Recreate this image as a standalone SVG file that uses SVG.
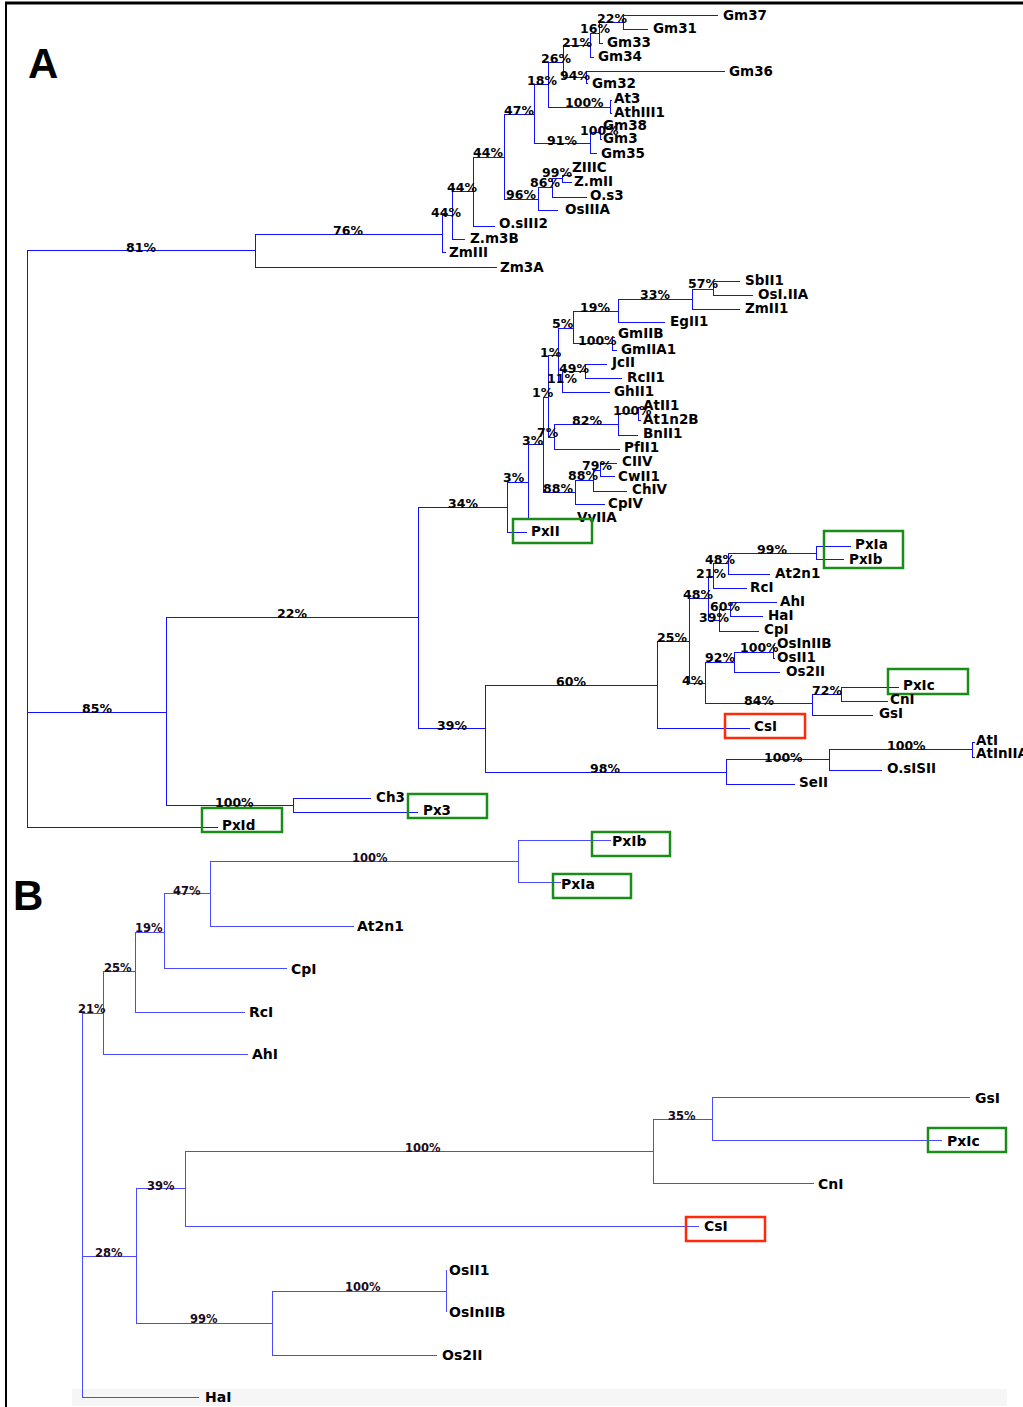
<svg xmlns="http://www.w3.org/2000/svg" width="1023" height="1407" viewBox="0 0 1023 1407">
<style>
.br{stroke:#1010ff;stroke-width:1;fill:none;shape-rendering:crispEdges}
.brb{stroke:#4a4aff}
.fr{stroke:#000;fill:none}
.lf{font-family:"DejaVu Sans",Verdana,sans-serif;font-weight:bold;font-size:13.5px;fill:#000}
.pc{font-family:"DejaVu Sans",Verdana,sans-serif;font-weight:bold;font-size:12.5px;fill:#000}
.lfb{font-family:"DejaVu Sans",Verdana,sans-serif;font-weight:bold;font-size:14px;fill:#000}
.pcb{font-family:"DejaVu Sans",Verdana,sans-serif;font-weight:bold;font-size:11.5px;fill:#1a0a1a}
.big{font-family:"Liberation Sans",Arial,sans-serif;font-weight:bold;font-size:42px;fill:#000}
.gb{fill:none;stroke:#1a8c1a;stroke-width:2.5}
.rb{fill:none;stroke:#ff2a0a;stroke-width:2.5}
</style>
<rect x="0" y="0" width="1023" height="1407" fill="#fff"/>
<rect x="72" y="1389" width="935" height="17" fill="#f6f6f6"/>
<g id="frame">
<path class="fr" stroke-width="3" d="M5 3H1023"/>
<path class="fr" stroke-width="2" d="M6 2V1407"/>
</g>
<text class="big" x="28" y="78">A</text>
<text class="big" x="13" y="910">B</text>
<g id="connectors" class="br">
<g id="conn-A">
<path d="M27 250V827M27 250H255M27 712H166M27 827H218"/>
<path d="M255 234V267M255 234H442M255 267H497"/>
<path d="M442 215V252M442 215H452M442 252H446"/>
<path d="M452 191V239M452 191H473M452 239H465"/>
<path d="M473 157V226M473 157H504M473 226H495"/>
<path d="M504 114V199M504 114H534M504 199H538"/>
<path d="M534 84V143M534 84H548M534 143H590"/>
<path d="M548 62V107M548 62H563M548 107H610"/>
<path d="M563 45V77M563 45H590M563 77H586"/>
<path d="M590 33V57M590 33H599M590 57H594"/>
<path d="M599 22V43M599 22H623M599 43H603"/>
<path d="M623 15V29M623 15H718M623 29H648"/>
<path d="M586 71V83M586 71H725M586 83H588"/>
<path d="M610 100V113M610 100H612M610 113H612"/>
<path d="M590 132V153M590 132H600M590 153H597"/>
<path d="M600 126V139M600 126H602M600 139H602"/>
<path d="M538 187V210M538 187H552M538 210H558"/>
<path d="M552 178V197M552 178H562M552 197H587"/>
<path d="M562 175V182M562 175H572M562 182H572"/>
<path d="M166 617V805M166 617H418M166 805H293"/>
<path d="M293 798V812M293 798H371M293 812H418"/>
<path d="M418 507V728M418 507H507M418 728H485"/>
<path d="M507 482V532M507 482H528M507 532H527"/>
<path d="M528 444V518M528 444H543M528 518H575"/>
<path d="M543 397V492M543 397H548M543 492H575"/>
<path d="M548 355V437M548 355H558M548 437H554"/>
<path d="M558 328V381M558 328H573M558 381H562"/>
<path d="M573 311V343M573 311H618M573 343H612"/>
<path d="M618 299V322M618 299H692M618 322H665"/>
<path d="M692 289V309M692 289H713M692 309H740"/>
<path d="M713 281V295M713 281H740M713 295H753"/>
<path d="M612 337V350M612 337H615M612 350H617"/>
<path d="M562 371V392M562 371H585M562 392H610"/>
<path d="M585 364V378M585 364H607M585 378H622"/>
<path d="M554 424V449M554 424H618M554 449H620"/>
<path d="M618 413V435M618 413H638M618 435H638"/>
<path d="M638 407V420M638 407H641M638 420H641"/>
<path d="M575 480V504M575 480H593M575 504H605"/>
<path d="M593 470V491M593 470H600M593 491H627"/>
<path d="M600 463V476M600 463H617M600 476H615"/>
<path d="M485 685V772M485 685H657M485 772H726"/>
<path d="M657 641V728M657 641H689M657 728H750"/>
<path d="M689 598V683M689 598H708M689 683H705"/>
<path d="M708 576V620M708 576H713M708 620H719"/>
<path d="M713 563V588M713 563H728M713 588H747"/>
<path d="M728 553V574M728 553H816M728 574H770"/>
<path d="M816 546V559M816 546H851M816 559H844"/>
<path d="M719 609V631M719 609H730M719 631H759"/>
<path d="M730 602V616M730 602H777M730 616H763"/>
<path d="M705 662V703M705 662H734M705 703H812"/>
<path d="M734 652V672M734 652H773M734 672H780"/>
<path d="M773 645V658M773 645H775M773 658H775"/>
<path d="M812 694V715M812 694H841M812 715H873"/>
<path d="M841 687V701M841 687H899M841 701H888"/>
<path d="M726 759V784M726 759H829M726 784H795"/>
<path d="M829 749V770M829 749H972M829 770H882"/>
<path d="M972 742V757M972 742H975M972 757H975"/>
</g>
<g id="conn-B" class="brb">
<path d="M82 1013V1397M82 1013H103M82 1256H136M82 1397H199"/>
<path d="M103 971V1054M103 971H135M103 1054H248"/>
<path d="M135 932V1012M135 932H164M135 1012H245"/>
<path d="M164 893V968M164 893H210M164 968H287"/>
<path d="M210 861V926M210 861H518M210 926H354"/>
<path d="M518 840V882M518 840H611M518 882H561"/>
<path d="M136 1188V1323M136 1188H185M136 1323H272"/>
<path d="M185 1151V1226M185 1151H653M185 1226H699"/>
<path d="M653 1119V1183M653 1119H712M653 1183H814"/>
<path d="M712 1097V1140M712 1097H970M712 1140H942"/>
<path d="M272 1291V1355M272 1291H446M272 1355H437"/>
<path d="M446 1270V1312"/>
</g>
</g>
<g id="support-A">
<text class="pc" x="597" y="23">22%</text>
<text class="pc" x="580" y="33">16%</text>
<text class="pc" x="562" y="47">21%</text>
<text class="pc" x="541" y="63">26%</text>
<text class="pc" x="560" y="80">94%</text>
<text class="pc" x="527" y="85">18%</text>
<text class="pc" x="565" y="107">100%</text>
<text class="pc" x="504" y="115">47%</text>
<text class="pc" x="580" y="135">100%</text>
<text class="pc" x="547" y="145">91%</text>
<text class="pc" x="473" y="157">44%</text>
<text class="pc" x="542" y="177">99%</text>
<text class="pc" x="530" y="187">86%</text>
<text class="pc" x="506" y="199">96%</text>
<text class="pc" x="447" y="192">44%</text>
<text class="pc" x="431" y="217">44%</text>
<text class="pc" x="333" y="235">76%</text>
<text class="pc" x="126" y="252">81%</text>
<text class="pc" x="688" y="288">57%</text>
<text class="pc" x="640" y="299">33%</text>
<text class="pc" x="580" y="312">19%</text>
<text class="pc" x="552" y="328">5%</text>
<text class="pc" x="578" y="345">100%</text>
<text class="pc" x="540" y="357">1%</text>
<text class="pc" x="559" y="373">49%</text>
<text class="pc" x="547" y="383">11%</text>
<text class="pc" x="532" y="397">1%</text>
<text class="pc" x="613" y="415">100%</text>
<text class="pc" x="572" y="425">82%</text>
<text class="pc" x="537" y="437">7%</text>
<text class="pc" x="522" y="445">3%</text>
<text class="pc" x="582" y="470">79%</text>
<text class="pc" x="568" y="480">88%</text>
<text class="pc" x="543" y="493">88%</text>
<text class="pc" x="503" y="482">3%</text>
<text class="pc" x="448" y="508">34%</text>
<text class="pc" x="277" y="618">22%</text>
<text class="pc" x="82" y="713">85%</text>
<text class="pc" x="437" y="730">39%</text>
<text class="pc" x="215" y="807">100%</text>
<text class="pc" x="757" y="554">99%</text>
<text class="pc" x="705" y="564">48%</text>
<text class="pc" x="696" y="578">21%</text>
<text class="pc" x="683" y="599">48%</text>
<text class="pc" x="710" y="611">60%</text>
<text class="pc" x="699" y="622">39%</text>
<text class="pc" x="657" y="642">25%</text>
<text class="pc" x="740" y="652">100%</text>
<text class="pc" x="705" y="662">92%</text>
<text class="pc" x="682" y="685">4%</text>
<text class="pc" x="744" y="705">84%</text>
<text class="pc" x="812" y="695">72%</text>
<text class="pc" x="556" y="686">60%</text>
<text class="pc" x="887" y="750">100%</text>
<text class="pc" x="764" y="762">100%</text>
<text class="pc" x="590" y="773">98%</text>
</g>
<g id="support-B">
<text class="pcb" x="352" y="862">100%</text>
<text class="pcb" x="173" y="895">47%</text>
<text class="pcb" x="135" y="932">19%</text>
<text class="pcb" x="104" y="972">25%</text>
<text class="pcb" x="78" y="1013">21%</text>
<text class="pcb" x="668" y="1120">35%</text>
<text class="pcb" x="405" y="1152">100%</text>
<text class="pcb" x="147" y="1190">39%</text>
<text class="pcb" x="95" y="1257">28%</text>
<text class="pcb" x="345" y="1291">100%</text>
<text class="pcb" x="190" y="1323">99%</text>
</g>
<g id="leaves-A">
<g id="a-Gm37"><text class="lf" x="723" y="20">Gm37</text></g>
<g id="a-Gm31"><text class="lf" x="653" y="33">Gm31</text></g>
<g id="a-Gm33"><text class="lf" x="607" y="47">Gm33</text></g>
<g id="a-Gm34"><text class="lf" x="598" y="61">Gm34</text></g>
<g id="a-Gm36"><text class="lf" x="729" y="76">Gm36</text></g>
<g id="a-Gm32"><text class="lf" x="592" y="88">Gm32</text></g>
<g id="a-At3"><text class="lf" x="614" y="103">At3</text></g>
<g id="a-AthIII1"><text class="lf" x="614" y="117">AthIII1</text></g>
<g id="a-Gm38"><text class="lf" x="603" y="130">Gm38</text></g>
<g id="a-Gm3"><text class="lf" x="603" y="143">Gm3</text></g>
<g id="a-Gm35"><text class="lf" x="601" y="158">Gm35</text></g>
<g id="a-ZIIIC"><text class="lf" x="572" y="172">ZIIIC</text></g>
<g id="a-ZmII"><text class="lf" x="574" y="186">Z.mII</text></g>
<g id="a-Os3"><text class="lf" x="590" y="200">O.s3</text></g>
<g id="a-OsIIIA"><text class="lf" x="565" y="214">OsIIIA</text></g>
<g id="a-OsIII2"><text class="lf" x="499" y="228">O.sIII2</text></g>
<g id="a-Zm3B"><text class="lf" x="470" y="243">Z.m3B</text></g>
<g id="a-ZmIII"><text class="lf" x="449" y="257">ZmIII</text></g>
<g id="a-Zm3A"><text class="lf" x="500" y="272">Zm3A</text></g>
<g id="a-SbII1"><text class="lf" x="745" y="285">SbII1</text></g>
<g id="a-OsIIIA2"><text class="lf" x="758" y="299">OsI.IIA</text></g>
<g id="a-ZmII1"><text class="lf" x="745" y="313">ZmII1</text></g>
<g id="a-EgII1"><text class="lf" x="670" y="326">EgII1</text></g>
<g id="a-GmIIB"><text class="lf" x="618" y="338">GmIIB</text></g>
<g id="a-GmIIA1"><text class="lf" x="621" y="354">GmIIA1</text></g>
<g id="a-JcII"><text class="lf" x="612" y="367">JcII</text></g>
<g id="a-RcII1"><text class="lf" x="627" y="382">RcII1</text></g>
<g id="a-GhII1"><text class="lf" x="614" y="396">GhII1</text></g>
<g id="a-AtII1"><text class="lf" x="643" y="410">AtII1</text></g>
<g id="a-At1n2B"><text class="lf" x="643" y="424">At1n2B</text></g>
<g id="a-BnII1"><text class="lf" x="643" y="438">BnII1</text></g>
<g id="a-PfII1"><text class="lf" x="624" y="452">PfII1</text></g>
<g id="a-CIIV"><text class="lf" x="622" y="466">CIIV</text></g>
<g id="a-CwII1"><text class="lf" x="618" y="481">CwII1</text></g>
<g id="a-ChIV"><text class="lf" x="632" y="494">ChIV</text></g>
<g id="a-CpIV"><text class="lf" x="608" y="508">CpIV</text></g>
<g id="a-VvIIA"><text class="lf" x="577" y="522">VvIIA</text></g>
<g id="a-PxII"><rect class="gb" x="513" y="519" width="79" height="24"/><text class="lf" x="531" y="536">PxII</text></g>
<g id="a-PxIab"><rect class="gb" x="824" y="531" width="79" height="37"/><text class="lf" x="855" y="549">PxIa</text><text class="lf" x="849" y="564">PxIb</text></g>
<g id="a-At2n1"><text class="lf" x="775" y="578">At2n1</text></g>
<g id="a-RcI"><text class="lf" x="750" y="592">RcI</text></g>
<g id="a-AhI"><text class="lf" x="780" y="606">AhI</text></g>
<g id="a-HaI"><text class="lf" x="768" y="620">HaI</text></g>
<g id="a-CpI"><text class="lf" x="764" y="634">CpI</text></g>
<g id="a-OsInIIB"><text class="lf" x="777" y="648">OsInIIB</text></g>
<g id="a-OsII1"><text class="lf" x="777" y="662">OsII1</text></g>
<g id="a-Os2II"><text class="lf" x="786" y="676">Os2II</text></g>
<g id="a-PxIc"><rect class="gb" x="888" y="669" width="80" height="25"/><text class="lf" x="903" y="690">PxIc</text></g>
<g id="a-CnI"><text class="lf" x="890" y="704">CnI</text></g>
<g id="a-GsI"><text class="lf" x="879" y="718">GsI</text></g>
<g id="a-CsI"><rect class="rb" x="725" y="714" width="80" height="24"/><text class="lf" x="754" y="731">CsI</text></g>
<g id="a-AtI"><text class="lf" x="976" y="745">AtI</text></g>
<g id="a-AtInIIA"><text class="lf" x="976" y="758">AtInIIA</text></g>
<g id="a-OsISII"><text class="lf" x="887" y="773">O.sISII</text></g>
<g id="a-SeII"><text class="lf" x="799" y="787">SeII</text></g>
<g id="a-Ch3"><text class="lf" x="376" y="802">Ch3</text></g>
<g id="a-Px3"><rect class="gb" x="408" y="794" width="79" height="24"/><text class="lf" x="423" y="815">Px3</text></g>
<g id="a-PxId"><rect class="gb" x="202" y="808" width="80" height="24"/><text class="lf" x="222" y="830">PxId</text></g>
</g>
<g id="leaves-B">
<g id="b-PxIb"><rect class="gb" x="592" y="832" width="78" height="24"/><text class="lfb" x="612" y="846">PxIb</text></g>
<g id="b-PxIa"><rect class="gb" x="553" y="874" width="78" height="24"/><text class="lfb" x="561" y="889">PxIa</text></g>
<g id="b-At2n1"><text class="lfb" x="357" y="931">At2n1</text></g>
<g id="b-CpI"><text class="lfb" x="291" y="974">CpI</text></g>
<g id="b-RcI"><text class="lfb" x="249" y="1017">RcI</text></g>
<g id="b-AhI"><text class="lfb" x="252" y="1059">AhI</text></g>
<g id="b-GsI"><text class="lfb" x="975" y="1103">GsI</text></g>
<g id="b-PxIc"><rect class="gb" x="928" y="1128" width="78" height="24"/><text class="lfb" x="947" y="1146">PxIc</text></g>
<g id="b-CnI"><text class="lfb" x="818" y="1189">CnI</text></g>
<g id="b-CsI"><rect class="rb" x="686" y="1217" width="79" height="24"/><text class="lfb" x="704" y="1231">CsI</text></g>
<g id="b-OsII1"><text class="lfb" x="449" y="1275">OsII1</text></g>
<g id="b-OsInIIB"><text class="lfb" x="449" y="1317">OsInIIB</text></g>
<g id="b-Os2II"><text class="lfb" x="442" y="1360">Os2II</text></g>
<g id="b-HaI"><text class="lfb" x="205" y="1402">HaI</text></g>
</g>
</svg>
